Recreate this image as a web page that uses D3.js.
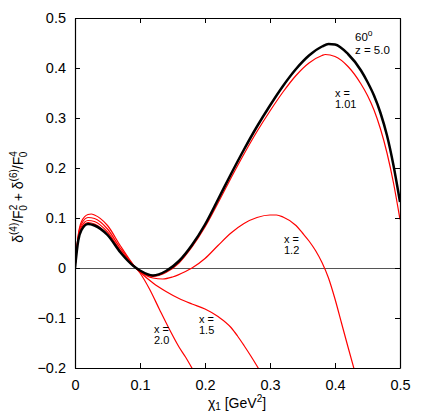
<!DOCTYPE html>
<html>
<head>
<meta charset="utf-8">
<script src="https://cdn.jsdelivr.net/npm/d3@7"></script>
<style>
  body { margin: 0; background: #fff; }
  text { font-family: "Liberation Sans", Arial, sans-serif; fill: #000; }
</style>
</head>
<body>
<svg id="chart" width="425" height="414"></svg>
<script>
// values
var chiBlack = [0, 0.005, 0.01, 0.02, 0.03, 0.05, 0.07, 0.09, 0.10, 0.12, 0.14, 0.16, 0.18, 0.20, 0.22, 0.24, 0.26, 0.28, 0.30, 0.32, 0.34, 0.36, 0.38, 0.39, 0.40, 0.42, 0.44, 0.45, 0.46, 0.47, 0.48, 0.49, 0.50];
var valBlack = [0, 0.055, 0.076, 0.088, 0.085, 0.066, 0.031, 0.004, -0.005, -0.015, -0.006, 0.014, 0.046, 0.087, 0.137, 0.188, 0.237, 0.283, 0.325, 0.364, 0.398, 0.425, 0.443, 0.448, 0.447, 0.428, 0.395, 0.372, 0.345, 0.310, 0.265, 0.205, 0.132];

var chi101 = [0, 0.005, 0.01, 0.02, 0.03, 0.05, 0.07, 0.09, 0.10, 0.12, 0.14, 0.16, 0.18, 0.20, 0.22, 0.24, 0.26, 0.28, 0.30, 0.32, 0.34, 0.36, 0.38, 0.385, 0.40, 0.42, 0.44, 0.45, 0.46, 0.47, 0.48, 0.49, 0.50];
var val101 = [0, 0.058, 0.079, 0.091, 0.088, 0.067, 0.032, 0.004, -0.006, -0.017, -0.009, 0.010, 0.042, 0.082, 0.130, 0.180, 0.228, 0.273, 0.314, 0.352, 0.385, 0.410, 0.425, 0.427, 0.423, 0.403, 0.368, 0.345, 0.316, 0.278, 0.230, 0.170, 0.097];

var chi12 = [0, 0.005, 0.01, 0.02, 0.03, 0.05, 0.07, 0.09, 0.10, 0.12, 0.135, 0.15, 0.17, 0.18, 0.20, 0.22, 0.24, 0.26, 0.28, 0.30, 0.31, 0.32, 0.34, 0.35, 0.36, 0.37, 0.38, 0.39, 0.40, 0.41, 0.42, 0.43];
var val12 = [0, 0.061, 0.083, 0.095, 0.093, 0.072, 0.035, 0.005, -0.007, -0.020, -0.022, -0.018, -0.007, 0.0, 0.019, 0.045, 0.070, 0.089, 0.101, 0.106, 0.106, 0.102, 0.085, 0.070, 0.054, 0.035, 0.011, -0.020, -0.062, -0.110, -0.158, -0.205];

var chi15 = [0, 0.005, 0.01, 0.02, 0.03, 0.05, 0.07, 0.09, 0.10, 0.12, 0.14, 0.16, 0.18, 0.20, 0.22, 0.24, 0.25, 0.26, 0.27, 0.28, 0.285];
var val15 = [0, 0.064, 0.088, 0.101, 0.099, 0.078, 0.039, 0.005, -0.008, -0.030, -0.047, -0.061, -0.072, -0.082, -0.097, -0.119, -0.136, -0.155, -0.175, -0.196, -0.207];

var chi20 = [0, 0.005, 0.01, 0.02, 0.025, 0.03, 0.05, 0.07, 0.09, 0.10, 0.115, 0.13, 0.145, 0.16, 0.17, 0.182];
var val20 = [0, 0.066, 0.093, 0.107, 0.108, 0.106, 0.085, 0.044, 0.006, -0.010, -0.043, -0.083, -0.122, -0.158, -0.178, -0.205];

var xTicks = [0, 0.1, 0.2, 0.3, 0.4, 0.5];
var yTicks = [-0.2, -0.1, 0, 0.1, 0.2, 0.3, 0.4, 0.5];

var redSeries = [
  { chi: chi101, val: val101 },
  { chi: chi12, val: val12 },
  { chi: chi15, val: val15 },
  { chi: chi20, val: val20 }
];

// curve labels: two lines each
var labels = [
  { lines: ["x =", "1.01"], x: 335, y: 97 },
  { lines: ["x =", "1.2"], x: 284, y: 243 },
  { lines: ["x =", "1.5"], x: 199, y: 323 },
  { lines: ["x =", "2.0"], x: 154, y: 333 }
];

function drawChart() {
  var svg = d3.select("#chart");
  var left = 75, right = 400, top = 18, bottom = 368;

  var x = d3.scaleLinear().domain([0, 0.5]).range([left, right]);
  var y = d3.scaleLinear().domain([-0.2, 0.5]).range([bottom, top]);

  svg.append("clipPath")
      .attr("id", "plot-clip")
    .append("rect")
      .attr("x", left)
      .attr("y", top)
      .attr("width", right - left)
      .attr("height", bottom - top);

  // zero line
  svg.append("line")
      .attr("x1", left)
      .attr("x2", right)
      .attr("y1", y(0) + 0.5)
      .attr("y2", y(0) + 0.5)
      .attr("stroke", "#555")
      .attr("stroke-width", 1);

  var line = d3.line()
      .x(d => x(d[0]))
      .y(d => y(d[1]))
      .curve(d3.curveMonotoneX);

  var plot = svg.append("g").attr("clip-path", "url(#plot-clip)");

  plot.selectAll(".red")
      .data(redSeries)
      .enter()
    .append("path")
      .classed("red", true)
      .attr("d", s => line(d3.zip(s.chi, s.val)))
      .attr("fill", "none")
      .attr("stroke", "#ff0000")
      .attr("stroke-width", 1.2);

  plot.append("path")
      .attr("d", line(d3.zip(chiBlack, valBlack)))
      .attr("fill", "none")
      .attr("stroke", "#000")
      .attr("stroke-width", 2.5);

  // axes, ticks pointing inward, mirrored on top and right
  var tickLen = 5;
  svg.append("g")
      .attr("transform", "translate(0," + bottom + ")")
      .call(d3.axisBottom(x).tickValues(xTicks).tickSize(-tickLen).tickSizeOuter(0).tickPadding(12).tickFormat(d3.format("~g")));
  svg.append("g")
      .attr("transform", "translate(0," + top + ")")
      .call(d3.axisTop(x).tickValues(xTicks).tickSize(-tickLen).tickSizeOuter(0).tickFormat(""));
  svg.append("g")
      .attr("transform", "translate(" + left + ",0)")
      .call(d3.axisLeft(y).tickValues(yTicks).tickSize(-tickLen).tickSizeOuter(0).tickPadding(9).tickFormat(d3.format("~g")));
  svg.append("g")
      .attr("transform", "translate(" + right + ",0)")
      .call(d3.axisRight(y).tickValues(yTicks).tickSize(-tickLen).tickSizeOuter(0).tickFormat(""));

  svg.selectAll(".domain").attr("stroke", "#000").attr("stroke-width", 1.2);
  svg.selectAll(".tick line").attr("stroke", "#000");
  svg.selectAll(".tick text")
      .attr("font-size", 14.5)
      .attr("font-family", "'Liberation Sans', Arial, sans-serif")
      .attr("fill", "#000");

  // x title
  var xt = svg.append("text")
      .attr("x", 237)
      .attr("y", 408)
      .attr("text-anchor", "middle")
      .attr("font-size", 14);
  xt.append("tspan").text("\u03c7");
  xt.append("tspan").attr("font-size", 10).attr("dy", 2).text("1");
  xt.append("tspan").attr("dy", -2).text(" [GeV");
  xt.append("tspan").attr("font-size", 10).attr("dy", -6).text("2");
  xt.append("tspan").attr("dy", 6).text("]");

  // y title
  var yt = svg.append("text")
      .attr("transform", "translate(23,197) rotate(-90)")
      .attr("text-anchor", "middle")
      .attr("font-size", 14);
  yt.append("tspan").text("\u03b4");
  yt.append("tspan").attr("font-size", 10).attr("dy", -6).text("(4)");
  yt.append("tspan").attr("dy", 6).text("/F");
  yt.append("tspan").attr("font-size", 10).attr("dy", -6).text("2");
  yt.append("tspan").attr("font-size", 10).attr("dx", -6).attr("dy", 10).text("0");
  yt.append("tspan").attr("dy", -4).text("  + \u03b4");
  yt.append("tspan").attr("font-size", 10).attr("dy", -6).text("(6)");
  yt.append("tspan").attr("dy", 6).text("/F");
  yt.append("tspan").attr("font-size", 10).attr("dy", -6).text("4");
  yt.append("tspan").attr("font-size", 10).attr("dx", -6).attr("dy", 10).text("0");

  // angle and z label of the black curve
  var ang = svg.append("text").attr("font-size", 11.5).attr("x", 355).attr("y", 41);
  ang.append("tspan").text("60");
  ang.append("tspan").attr("font-size", 8.5).attr("dy", -5).text("o");
  svg.append("text")
      .attr("font-size", 11.5)
      .attr("x", 355)
      .attr("y", 54)
      .text("z = 5.0");

  // curve labels
  labels.forEach(l => {
    var t = svg.append("text")
        .attr("font-size", 11);
    l.lines.forEach((s, i) => {
      t.append("tspan")
          .attr("x", l.x)
          .attr("y", l.y + i * 11)
          .text(s);
    });
  });
}

drawChart();
</script>
</body>
</html>
